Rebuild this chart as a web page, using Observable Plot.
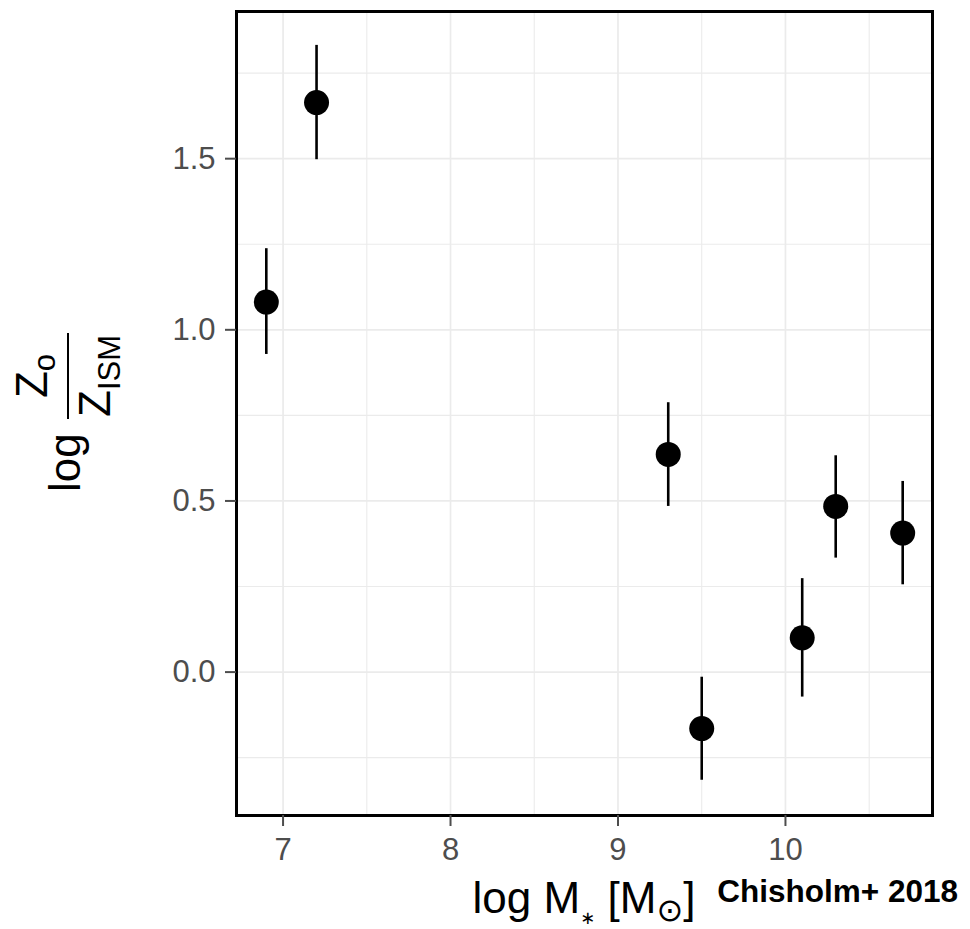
<!DOCTYPE html>
<html>
<head>
<meta charset="utf-8">
<script src="https://cdn.jsdelivr.net/npm/d3@7"></script>
<script src="https://cdn.jsdelivr.net/npm/@observablehq/plot@0.6"></script>
<style>
  html, body { margin: 0; padding: 0; background: #fff; }
  #chart { width: 970px; height: 929px; }
</style>
</head>
<body>
<div id="chart"></div>
<script>
// Data (Chisholm+ 2018)
const logMass  = [6.9, 7.2, 9.3, 9.5, 10.1, 10.3, 10.7];
const logZratio = [1.081, 1.664, 0.636, -0.165, 0.100, 0.484, 0.406];
const errLow   = [0.928, 1.497, 0.484, -0.316, -0.073, 0.333, 0.255];
const errHigh  = [1.237, 1.831, 0.787, -0.015, 0.273, 0.632, 0.557];

const xTicks = [7, 8, 9, 10];
const xMinor = [7.5, 8.5, 9.5, 10.5];
const yTicks = [0, 0.5, 1.0, 1.5];
const yMinor = [-0.25, 0.25, 0.75, 1.25, 1.75];

const data = logMass.map((m, i) => ({x: m, y: logZratio[i], lo: errLow[i], hi: errHigh[i]}));

const font = "'Liberation Sans', Arial, Helvetica, sans-serif";

const svg = Plot.plot({
  width: 970,
  height: 929,
  marginLeft: 236,
  marginRight: 38,
  marginTop: 11,
  marginBottom: 114,
  style: {fontFamily: font, background: "#fff"},
  x: {domain: [6.722, 10.878]},
  y: {domain: [-0.419, 1.930]},
  marks: [
    Plot.gridX(xMinor, {stroke: "#ebebeb", strokeOpacity: 1, strokeWidth: 1.1}),
    Plot.gridY(yMinor, {stroke: "#ebebeb", strokeOpacity: 1, strokeWidth: 1.1}),
    Plot.gridX(xTicks, {stroke: "#ebebeb", strokeOpacity: 1, strokeWidth: 1.7}),
    Plot.gridY(yTicks, {stroke: "#ebebeb", strokeOpacity: 1, strokeWidth: 1.7}),
    Plot.ruleX(data, {x: "x", y1: "lo", y2: "hi", stroke: "black", strokeWidth: 2.6}),
    Plot.dot(data, {x: "x", y: "y", r: 12.5, fill: "black", stroke: "none"}),
    Plot.frame({stroke: "black", strokeWidth: 3}),
    Plot.axisX({ticks: xTicks, tickSize: 11, tickPadding: 11, fontSize: 31, color: "#4d4d4d", strokeWidth: 2, label: null, tickFormat: d3.format("d")}),
    Plot.axisY({ticks: yTicks, tickSize: 11, tickPadding: 10, fontSize: 31, color: "#4d4d4d", strokeWidth: 2, label: null, tickFormat: d3.format(".1f")})
  ]
});

const s = d3.select(svg);

// x-axis title: log M* [M⊙]
const xt = s.append("text")
  .attr("x", 584).attr("y", 912.7)
  .attr("text-anchor", "middle")
  .attr("font-family", font)
  .attr("font-size", 44)
  .attr("fill", "black");
xt.append("tspan").text("log M");
xt.append("tspan").attr("font-size", 18).attr("dy", 11).attr("font-family", "'DejaVu Sans', sans-serif").text("\u2217");
xt.append("tspan").attr("dy", -11).text(" [M");
xt.append("tspan").attr("font-size", 32).attr("dy", 8).attr("font-family", "'DejaVu Sans', sans-serif").text("\u2299");
xt.append("tspan").attr("dy", -8).text("]");

// caption
s.append("text")
  .attr("x", 958).attr("y", 901.7)
  .attr("text-anchor", "end")
  .attr("font-family", font)
  .attr("font-weight", "bold")
  .attr("font-size", 31.5)
  .attr("fill", "black")
  .text("Chisholm+ 2018");

// y-axis title: log (Z_o / Z_ISM), rotated
const yg = s.append("g").attr("transform", "rotate(-90)")
  .attr("font-family", font).attr("fill", "black");
yg.append("text")
  .attr("x", -492).attr("y", 80)
  .attr("text-anchor", "start")
  .attr("font-size", 44)
  .text("log");
yg.append("line")
  .attr("x1", -419).attr("x2", -333)
  .attr("y1", 68).attr("y2", 68)
  .attr("stroke", "black").attr("stroke-width", 2);
const num = yg.append("text")
  .attr("x", -376).attr("y", 47)
  .attr("text-anchor", "middle")
  .attr("font-size", 44);
num.append("tspan").text("Z");
num.append("tspan").attr("font-size", 31).attr("dy", 8).text("o");
const den = yg.append("text")
  .attr("x", -376).attr("y", 110)
  .attr("text-anchor", "middle")
  .attr("font-size", 44);
den.append("tspan").text("Z");
den.append("tspan").attr("font-size", 31).attr("dy", 10).text("ISM");

document.getElementById("chart").appendChild(svg);
</script>
</body>
</html>
